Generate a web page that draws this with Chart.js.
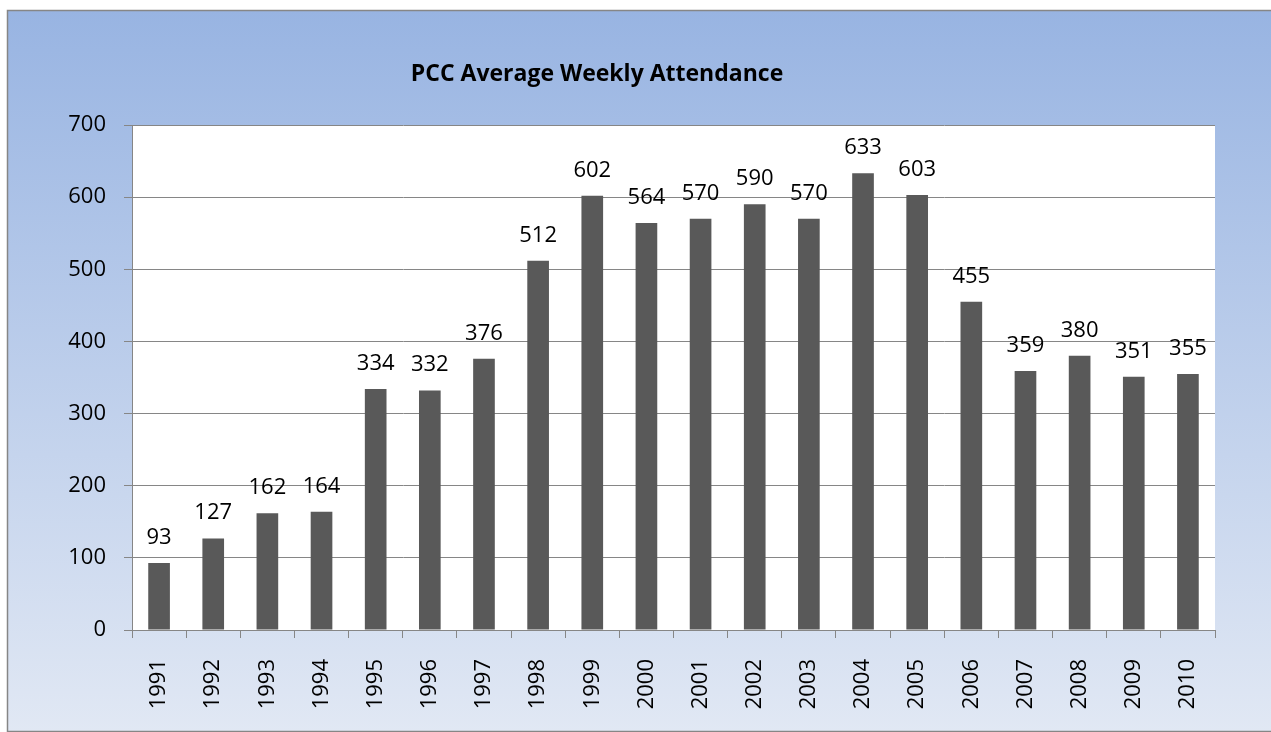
<!DOCTYPE html>
<html>
<head>
<meta charset="utf-8">
<script src="https://cdn.jsdelivr.net/npm/chart.js@4"></script>
<style>
html,body{margin:0;padding:0;background:#fff;}
#wrap{width:1271px;height:732px;position:relative;}
</style>
</head>
<body>
<div id="wrap"><canvas id="c"></canvas></div>
<script>
const titleText = 'PCC Average Weekly Attendance';
const years = ['1991','1992','1993','1994','1995','1996','1997','1998','1999','2000','2001','2002','2003','2004','2005','2006','2007','2008','2009','2010'];
const attendance = [93,127,162,164,334,332,376,512,602,564,570,590,570,633,603,455,359,380,351,355];
const yMin = 0, yMax = 700, yStep = 100;

const FONT = '"Open Sans", "Liberation Sans", sans-serif';
const GRID = '#868686';

const bgPlugin = {
  id: 'bg',
  beforeDraw(chart) {
    const ctx = chart.ctx;
    ctx.save();
    ctx.fillStyle = '#ffffff';
    ctx.fillRect(0, 0, chart.width, chart.height);
    const g = ctx.createLinearGradient(0, 10, 0, 732);
    g.addColorStop(0, '#98b4e2');
    g.addColorStop(1, '#e1e8f4');
    ctx.fillStyle = g;
    ctx.fillRect(7, 10, chart.width + 10, 722);
    ctx.strokeStyle = GRID;
    ctx.lineWidth = 1.5;
    ctx.strokeRect(7.5, 10.5, chart.width + 10, 721);
    const a = chart.chartArea;
    ctx.fillStyle = '#ffffff';
    ctx.fillRect(a.left, a.top, a.right - a.left, a.bottom - a.top);
    ctx.restore();
  }
};

const titlePlugin = {
  id: 'ttl',
  afterDraw(chart) {
    const ctx = chart.ctx;
    ctx.save();
    ctx.font = 'bold 23px ' + FONT;
    ctx.fillStyle = '#000';
    ctx.textAlign = 'center';
    ctx.textBaseline = 'alphabetic';
    ctx.fillText(titleText, 597, 81);
    ctx.restore();
  }
};

const labelPlugin = {
  id: 'vals',
  afterDatasetsDraw(chart) {
    const ctx = chart.ctx;
    const meta = chart.getDatasetMeta(0);
    const data = chart.data.datasets[0].data;
    ctx.save();
    ctx.font = '22px ' + FONT;
    ctx.fillStyle = '#000';
    ctx.textAlign = 'center';
    ctx.textBaseline = 'alphabetic';
    meta.data.forEach((el, i) => {
      ctx.fillText(String(data[i]), el.x, el.y - 19);
    });
    ctx.restore();
  }
};

new Chart(document.getElementById('c'), {
  type: 'bar',
  data: {
    labels: years,
    datasets: [{
      data: attendance,
      backgroundColor: '#595959',
      borderWidth: 0,
      barPercentage: 0.4,
      categoryPercentage: 1.0
    }]
  },
  options: {
    responsive: true,
    maintainAspectRatio: false,
    animation: false,
    devicePixelRatio: 1,
    layout: { padding: { left: 0, right: 56, top: 125, bottom: 0 } },
    plugins: { legend: { display: false }, title: { display: false }, tooltip: { enabled: false } },
    scales: {
      x: {
        grid: { offset: true, drawOnChartArea: false, drawTicks: true, tickLength: 8, color: GRID, lineWidth: 1 },
        border: { color: GRID, width: 1 },
        ticks: { color: '#000', font: { family: FONT, size: 22 }, minRotation: 90, maxRotation: 90, padding: 21, autoSkip: false },
        afterFit(scale) { scale.height = 102; }
      },
      y: {
        min: yMin, max: yMax,
        grid: { color: GRID, lineWidth: 1, drawTicks: true, tickLength: 8 },
        border: { color: GRID, width: 1 },
        ticks: { stepSize: yStep, color: '#000', font: { family: FONT, size: 22 }, padding: 18 },
        afterFit(scale) { scale.width = 132; }
      }
    }
  },
  plugins: [bgPlugin, titlePlugin, labelPlugin]
});
</script>
</body>
</html>
